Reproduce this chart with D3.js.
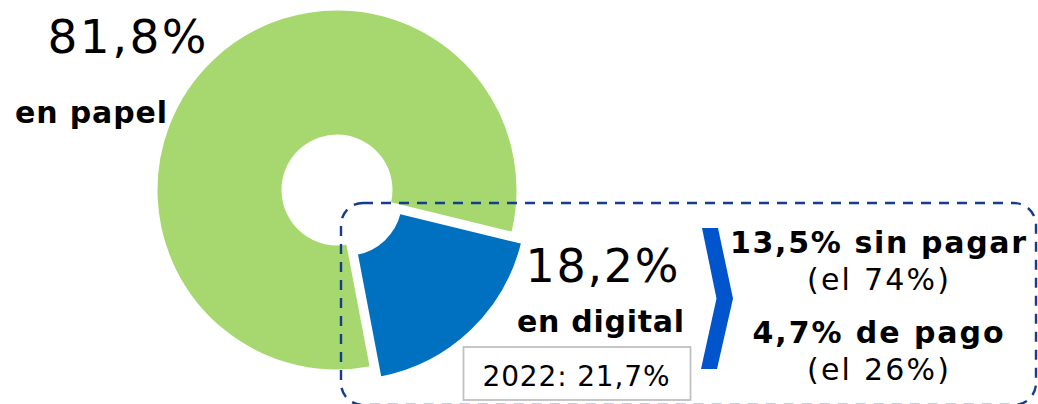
<!DOCTYPE html>
<html>
<head>
<meta charset="utf-8">
<script src="https://cdn.jsdelivr.net/npm/d3@7/dist/d3.min.js"></script>
<style>
  html, body { margin: 0; padding: 0; background: #fff; }
  svg { display: block; }
  text { font-family: "DejaVu Sans", Verdana, sans-serif; fill: #000; }
</style>
</head>
<body>
<svg id="chart" width="1038" height="404"></svg>
<script>
// Reparto del consumo: digital frente a papel
const categories = ["en digital", "en papel"];
const shares = [18.2, 81.8];
const shareLabels = ["18,2%", "81,8%"];
const sliceColors = ["#0070C0", "#A6D86F"];
const previousYear = "2022: 21,7%";
const digitalSplit = ["13,5% sin pagar", "4,7% de pago"];
const digitalSplitNotes = ["(el 74%)", "(el 26%)"];

const svg = d3.select("#chart");

const cx = 337, cy = 190;
const outerR = 180.5, innerR = 54.5;
const explode = 14;
const startDeg = 103.7;

const pie = d3.pie().sort(null)
  .startAngle(startDeg * Math.PI / 180)
  .endAngle(startDeg * Math.PI / 180 + 2 * Math.PI);
const arc = d3.arc().innerRadius(innerR).outerRadius(outerR);
const arcs = pie(shares);

const pieG = svg.append("g").attr("transform", `translate(${cx},${cy})`);
pieG.selectAll("path")
  .data(arcs)
  .join("path")
  .attr("d", arc)
  .attr("fill", (d, i) => sliceColors[i])
  .attr("stroke", "#fff")
  .attr("stroke-width", 2)
  .attr("transform", (d, i) => {
    if (i !== 0) return null;
    const mid = (d.startAngle + d.endAngle) / 2;
    return `translate(${Math.sin(mid) * explode},${-Math.cos(mid) * explode})`;
  });

// Recuadro discontinuo que agrupa el desglose digital
svg.append("rect")
  .attr("x", 341).attr("y", 203)
  .attr("width", 695).attr("height", 202)
  .attr("rx", 22).attr("ry", 22)
  .attr("fill", "none")
  .attr("stroke", "#143E8C")
  .attr("stroke-width", 2.4)
  .attr("stroke-dasharray", "10,8");

// Texto con ancho fijo (Verdana-like spacing)
function label(x, y, txt, size, bold, width) {
  const t = svg.append("text").attr("x", x).attr("y", y)
    .attr("text-anchor", "middle").attr("font-size", size)
    .attr("font-weight", bold ? "bold" : "normal")
    .text(txt);
  if (width) t.attr("textLength", width).attr("lengthAdjust", "spacing");
  return t;
}

// Etiquetas de papel
label(127, 53, shareLabels[1], 47, false, 159);
label(91, 123, categories[1], 30, true, 152);

// Etiquetas de digital
label(602, 282, shareLabels[0], 46, false, 153);
label(600.5, 332, categories[0], 30, true, 167);

// Comparación con el año anterior
svg.append("rect")
  .attr("x", 463.5).attr("y", 347)
  .attr("width", 227).attr("height", 53)
  .attr("fill", "#fff")
  .attr("stroke", "#BFBFBF")
  .attr("stroke-width", 1.75);
label(576, 386, previousYear, 28, false, 187);

// Flecha en forma de chevron
svg.append("path")
  .attr("d", "M702,228 L718,228 L733,298.5 L717,369 L701,369 L716.5,298.5 Z")
  .attr("fill", "#0055CC");

// Desglose del consumo digital
const rows = [
  { main: digitalSplit[0], note: digitalSplitNotes[0], y1: 253, y2: 290, w1: 296 },
  { main: digitalSplit[1], note: digitalSplitNotes[1], y1: 343, y2: 380, w1: 251 }
];
rows.forEach(r => {
  label(878, r.y1, r.main, 30, true, r.w1);
  label(878, r.y2, r.note, 30, false, 142);
});
</script>
</body>
</html>
